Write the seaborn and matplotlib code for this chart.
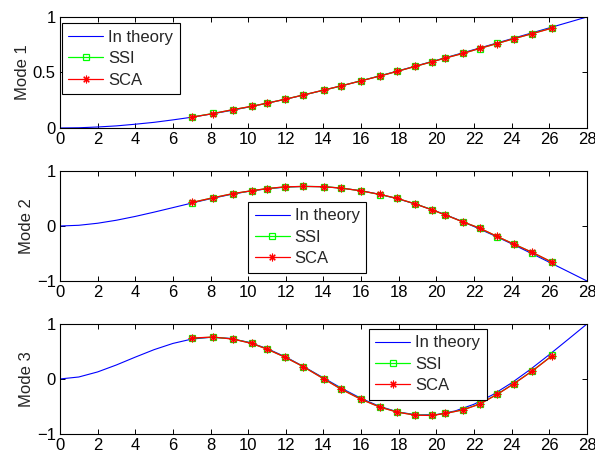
import matplotlib
matplotlib.use("Agg")
import matplotlib.pyplot as plt
import seaborn as sns
import pandas as pd

# Theoretical mode shapes sampled along the beam (x = 0 .. 28)
x_theory = list(range(29))
mode1_theory = [0.000, 0.002, 0.009, 0.019, 0.034, 0.051, 0.073, 0.097, 0.125, 0.155,
                0.188, 0.223, 0.260, 0.299, 0.340, 0.382, 0.425, 0.470, 0.516, 0.563,
                0.610, 0.658, 0.706, 0.755, 0.804, 0.853, 0.902, 0.951, 1.000]
mode2_theory = [0.000, 0.013, 0.050, 0.105, 0.174, 0.252, 0.334, 0.417, 0.496, 0.568,
                0.629, 0.676, 0.707, 0.720, 0.714, 0.687, 0.641, 0.575, 0.489, 0.387,
                0.268, 0.135, -0.010, -0.164, -0.324, -0.490, -0.659, -0.829, -1.000]
mode3_theory = [0.000, 0.036, 0.128, 0.255, 0.397, 0.533, 0.646, 0.725, 0.757, 0.739,
                0.670, 0.554, 0.399, 0.216, 0.020, -0.176, -0.353, -0.500, -0.603, -0.654,
                -0.648, -0.581, -0.459, -0.285, -0.070, 0.176, 0.443, 0.720, 1.000]

# Sensor locations and identified mode shapes
x_sensor = [7, 8.14, 9.2, 10.18, 11.0, 11.95, 12.92, 14.02, 14.95, 16.0, 17.0,
            17.92, 18.87, 19.74, 20.48, 21.42, 22.3, 23.23, 24.1, 25.1, 26.16]

mode1_ssi = [0.098, 0.131, 0.165, 0.195, 0.223, 0.259, 0.297, 0.341, 0.379, 0.426, 0.469,
             0.511, 0.554, 0.596, 0.631, 0.673, 0.716, 0.762, 0.803, 0.851, 0.902]
mode1_sca = [0.097, 0.130, 0.166, 0.195, 0.224, 0.258, 0.297, 0.342, 0.380, 0.425, 0.468,
             0.510, 0.555, 0.595, 0.630, 0.672, 0.717, 0.761, 0.804, 0.850, 0.900]

mode2_ssi = [0.425, 0.515, 0.588, 0.640, 0.680, 0.710, 0.720, 0.715, 0.690, 0.638, 0.572,
             0.500, 0.404, 0.298, 0.200, 0.075, -0.040, -0.192, -0.325, -0.482, -0.662]
mode2_sca = [0.428, 0.513, 0.590, 0.641, 0.681, 0.712, 0.719, 0.714, 0.688, 0.639, 0.574,
             0.502, 0.402, 0.296, 0.202, 0.072, -0.038, -0.190, -0.327, -0.480, -0.660]

mode3_ssi = [0.742, 0.760, 0.727, 0.648, 0.545, 0.398, 0.226, 0.004, -0.185, -0.368, -0.510,
             -0.601, -0.656, -0.662, -0.627, -0.559, -0.452, -0.278, -0.088, 0.148, 0.428]
mode3_sca = [0.744, 0.762, 0.725, 0.646, 0.543, 0.397, 0.225, 0.000, -0.189, -0.371, -0.512,
             -0.603, -0.658, -0.664, -0.627, -0.561, -0.457, -0.280, -0.091, 0.146, 0.426]

mode_labels = ["Mode 1", "Mode 2", "Mode 3"]
series_labels = ["In theory", "SSI", "SCA"]
x_ticks = list(range(0, 29, 2))
y_ticks = [[0, 0.5, 1], [-1, 0, 1], [-1, 0, 1]]
y_tick_labels = [["0", "0.5", "1"], ["\u22121", "0", "1"], ["\u22121", "0", "1"]]
y_limits = [(0, 1), (-1, 1), (-1, 1)]

sns.set_theme(style="ticks")
plt.rcParams["font.family"] = ["Liberation Sans", "DejaVu Sans"]
plt.rcParams["font.size"] = 12
plt.rcParams["axes.linewidth"] = 0.8

FS = 12
fig = plt.figure(figsize=(5.95, 4.55), dpi=100)

# axes rectangles in figure fractions
ax_rects = [
    [0.1008, 0.7187, 0.8857, 0.2440],
    [0.1008, 0.3824, 0.8857, 0.2418],
    [0.1008, 0.0462, 0.8857, 0.2418],
]
legend_anchor = [(0.003, 0.943), (0.357, 0.721), (0.586, 0.957)]
ylabel_x = [-0.057, -0.049, -0.049]

theory_sets = [mode1_theory, mode2_theory, mode3_theory]
ssi_sets = [mode1_ssi, mode2_ssi, mode3_ssi]
sca_sets = [mode1_sca, mode2_sca, mode3_sca]

blue, green, red = (0, 0, 1), (0, 1, 0), (1, 0, 0)

for i in range(3):
    ax = fig.add_axes(ax_rects[i])
    df_t = pd.DataFrame({"x": x_theory, "y": theory_sets[i]})
    df_s = pd.DataFrame({"x": x_sensor, "ssi": ssi_sets[i], "sca": sca_sets[i]})

    sns.lineplot(data=df_t, x="x", y="y", ax=ax, color=blue, linewidth=0.8)
    sns.lineplot(data=df_s, x="x", y="ssi", ax=ax, color=green, linewidth=0.9,
                 marker="s", markersize=5, markerfacecolor="none",
                 markeredgecolor=green, markeredgewidth=0.9)
    sns.lineplot(data=df_s, x="x", y="sca", ax=ax, color=red, linewidth=0.9,
                 marker=(8, 2, 0), markersize=5.5, markeredgecolor=red,
                 markeredgewidth=0.8)

    ax.set_xlim(0, 28)
    ax.set_ylim(*y_limits[i])
    ax.set_xticks(x_ticks)
    ax.set_xticklabels([str(t) for t in x_ticks])
    ax.set_yticks(y_ticks[i])
    ax.set_yticklabels(y_tick_labels[i])
    ax.set_xlabel("")
    ax.set_ylabel(mode_labels[i], fontsize=FS)
    ax.yaxis.set_label_coords(ylabel_x[i], 0.5)
    ax.tick_params(direction="in", top=True, right=True, length=3.5, width=0.7,
                   labelsize=FS, colors="black", pad=3)
    for sp in ax.spines.values():
        sp.set_visible(True)
        sp.set_color("black")
        sp.set_linewidth(0.8)

    handles = list(ax.lines[:3])
    leg = ax.legend(handles, series_labels, loc="upper left",
                    bbox_to_anchor=legend_anchor[i], borderaxespad=0,
                    frameon=True, fancybox=False, framealpha=1, edgecolor="black",
                    fontsize=FS, handlelength=2.1, handletextpad=0.3,
                    labelspacing=0.38, borderpad=0.4)
    leg.get_frame().set_linewidth(0.8)

fig.savefig("out.png", dpi=100)
